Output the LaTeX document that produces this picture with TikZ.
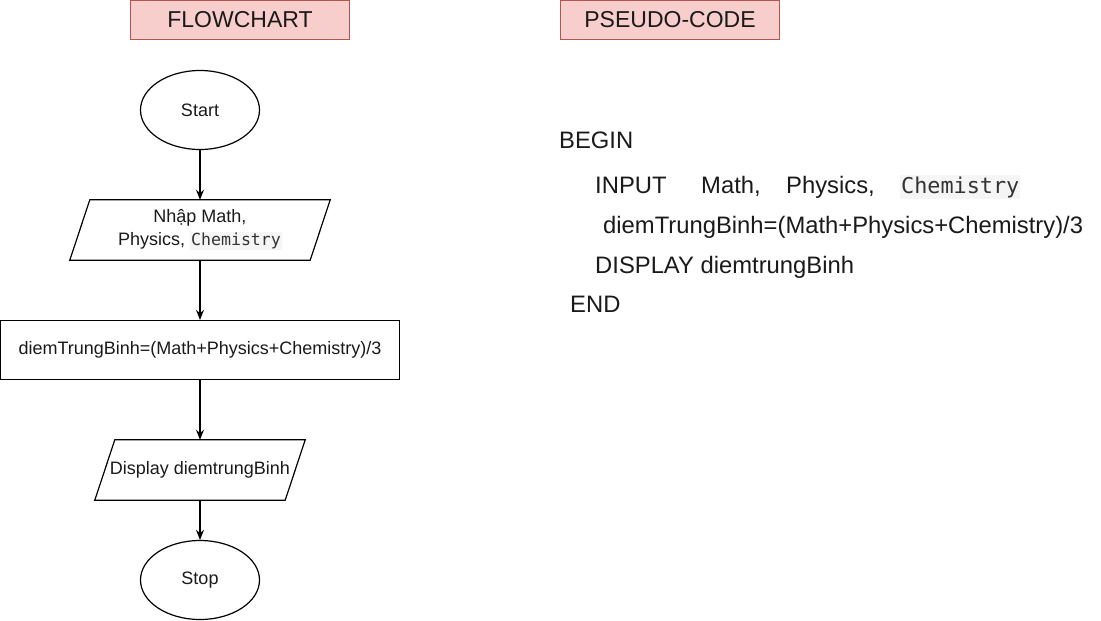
\documentclass[tikz,border=0pt]{standalone}
\usepackage{fontspec}
\setmainfont{Liberation Sans}
\newfontfamily\codefont{DejaVu Sans Mono}
\usetikzlibrary{arrows.meta,shapes.geometric}
\definecolor{hdrfill}{HTML}{F8CECC}
\definecolor{hdrdraw}{HTML}{B85450}
\definecolor{codebg}{HTML}{F5F5F5}
\definecolor{codefg}{HTML}{333333}
\definecolor{txt}{HTML}{1A1A1A}
\newcommand{\codeword}[2]{{\setlength{\fboxsep}{1pt}\colorbox{codebg}{\fontsize{#1}{#1}\codefont\color{codefg}#2}}}
\begin{document}
\begin{tikzpicture}[x=1pt,y=-1pt,
  hdr/.style={draw=hdrdraw, fill=hdrfill, line width=1pt, minimum width=219pt, minimum height=39pt, inner sep=0pt, text=txt, font=\fontsize{23}{27}\selectfont},
  term/.style={ellipse, draw, line width=1.2pt, minimum width=119pt, minimum height=79pt, inner sep=0pt, text=txt, font=\fontsize{18}{21}\selectfont},
  proc/.style={rectangle, draw, line width=1.2pt, minimum width=398.8pt, minimum height=59pt, inner sep=0pt, text=txt, font=\fontsize{18}{21}\selectfont},
  io/.style={rectangle, minimum height=60pt, inner sep=0pt, align=center, text=txt, font=\fontsize{18}{23}\selectfont},
  para/.style={line width=1.2pt, line join=miter},
  flow/.style={-{Stealth[length=10pt,width=8pt]}, line width=1.2pt},
  pc/.style={inner sep=0pt, anchor=base west, text=txt, font=\fontsize{23.8}{28}\selectfont}
]
\useasboundingbox (0,0) rectangle (1101,621);

% headers
\node[hdr] (hflow) at (240,20) {FLOWCHART};
\node[hdr] (hpseudo) at (670,20) {PSEUDO-CODE};

% flowchart
\node[term] (start) at (200,110) {Start};
\node[io, minimum width=260pt] (input) at (200,230) {Nhập Math,\\Physics, \codeword{16.6}{Chemistry}};
\draw[para] ([xshift=20pt]input.north west) -- (input.north east) -- ([xshift=-20pt]input.south east) -- (input.south west) -- cycle;
\node[proc] (calc) at (200,350) {diemTrungBinh=(Math+Physics+Chemistry)/3};
\node[io, minimum width=210pt] (disp) at (200,470) {\raisebox{-1.5pt}{Display diemtrungBinh}};
\draw[para] ([xshift=20pt]disp.north west) -- (disp.north east) -- ([xshift=-20pt]disp.south east) -- (disp.south west) -- cycle;
\node[term] (stop) at (200,580) {\raisebox{-1pt}{Stop}};

\draw[flow] (start) -- (input);
\draw[flow] (input) -- (calc);
\draw[flow] (calc) -- (disp);
\draw[flow] (disp) -- (stop);

% pseudo-code
\node[pc] (pbegin) at (559,148) {BEGIN};
\node[pc] (pinput) at (595,193) {INPUT};
\node[pc] (pmath) at (701,193) {Math,};
\node[pc] (pphys) at (786,193) {Physics,};
\node[pc] (pchem) at (900,193) {\codeword{21.8}{Chemistry}};
\node[pc] (pavg) at (603,233) {diemTrungBinh=(Math+Physics+Chemistry)/3};
\node[pc] (pdisp) at (595,273) {DISPLAY diemtrungBinh};
\node[pc] (pend) at (570,312) {END};
\end{tikzpicture}
\end{document}
